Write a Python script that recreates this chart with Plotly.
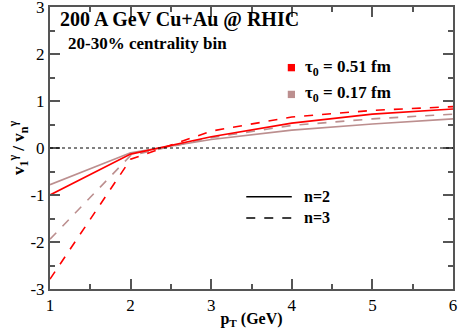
import plotly.graph_objects as go

# pT grid (GeV)
pt = [1, 2, 3, 4, 5, 6]

# v1^gamma / vn^gamma
tau051_n2 = [-1.00, -0.13, 0.24, 0.53, 0.72, 0.83]
tau051_n3 = [-2.79, -0.24, 0.36, 0.66, 0.80, 0.88]
tau017_n2 = [-0.78, -0.10, 0.18, 0.38, 0.51, 0.62]
tau017_n3 = [-1.94, -0.16, 0.22, 0.48, 0.62, 0.72]

y_ticks = [-3, -2, -1, 0, 1, 2, 3]
x_ticks = [1, 2, 3, 4, 5, 6]

RED = "#ff0000"
BROWN = "#bc8f8f"
FONT = "Times New Roman, Liberation Serif, serif"

fig = go.Figure()
for y, col, dash in [
    (tau017_n2, BROWN, "solid"),
    (tau017_n3, BROWN, "dash"),
    (tau051_n2, RED, "solid"),
    (tau051_n3, RED, "dash"),
]:
    fig.add_trace(go.Scatter(x=pt, y=y, mode="lines",
                             line=dict(color=col, width=1.6, dash=dash),
                             showlegend=False))

# dotted zero line
fig.add_hline(y=0, line=dict(color="black", width=1, dash="dot"))

axis_common = dict(
    showgrid=False, zeroline=False, showline=True, linecolor="#555555",
    linewidth=2, mirror="ticks", ticks="inside", ticklen=10, tickwidth=1.5,
    tickcolor="#555555", tickfont=dict(family=FONT, size=17, color="black"),
    ticklabeloverflow="allow",
    minor=dict(ticks="inside", ticklen=5, tickwidth=1.5, tickcolor="#555555", dtick=0.5),
)

fig.update_layout(
    width=458, height=329,
    margin=dict(l=50, r=5, t=7, b=40, autoexpand=False),
    paper_bgcolor="white", plot_bgcolor="white",
    font=dict(family=FONT, color="black"),
    xaxis=dict(range=[1, 6], tickvals=x_ticks, ticktext=[str(v) for v in x_ticks],
               title=dict(text="<b>p<sub>T</sub> (GeV)</b>", font=dict(size=16), standoff=0),
               **axis_common),
    yaxis=dict(range=[-3, 3], tickvals=y_ticks, ticktext=[str(v) for v in y_ticks],
               title=dict(text="<b>v<sub>1</sub><sup>γ</sup> / v<sub>n</sub><sup>γ</sup></b>",
                          font=dict(size=17), standoff=1),
               **axis_common),
)

# text labels
fig.add_annotation(x=0.02, y=0.955, xref="paper", yref="paper", xanchor="left", yanchor="middle",
                   text="<b>200 A GeV Cu+Au @ RHIC</b>", showarrow=False, font=dict(size=20))
fig.add_annotation(x=0.04, y=0.87, xref="paper", yref="paper", xanchor="left", yanchor="middle",
                   text="<b>20-30% centrality bin</b>", showarrow=False, font=dict(size=17))

# tau0 legend (squares)
for yy, col, lab in [(0.785, RED, "τ<sub>0</sub> = 0.51 fm"), (0.69, BROWN, "τ<sub>0</sub> = 0.17 fm")]:
    fig.add_shape(type="rect", xref="paper", yref="paper",
                  x0=0.59, x1=0.608, y0=yy - 0.013, y1=yy + 0.013,
                  fillcolor=col, line=dict(width=0))
    fig.add_annotation(x=0.627, y=yy, xref="paper", yref="paper", xanchor="left", yanchor="middle",
                       text=f"<b>{lab}</b>", showarrow=False, font=dict(size=17))

# line style legend
for yy, dash, lab in [(0.327, "solid", "n=2"), (0.252, "dash", "n=3")]:
    fig.add_shape(type="line", xref="paper", yref="paper",
                  x0=0.487, x1=0.6, y0=yy, y1=yy, line=dict(color="black", width=1.5, dash=dash))
    fig.add_annotation(x=0.625, y=yy, xref="paper", yref="paper", xanchor="left", yanchor="middle",
                       text=f"<b>{lab}</b>", showarrow=False, font=dict(size=16))

# drop the default page margin so the figure sits at the window corner
fig.write_html("out.html", config={"displayModeBar": False},
               post_script="document.body.style.margin='0';")
